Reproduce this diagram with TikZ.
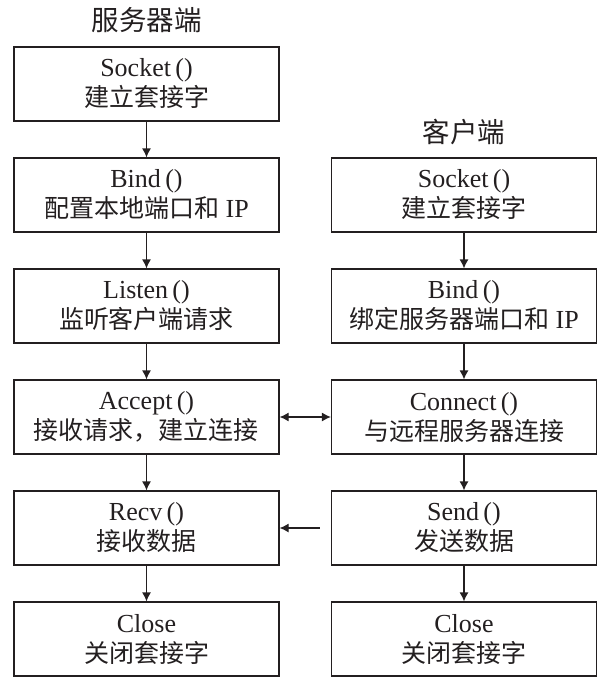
\documentclass[tikz,border=0pt]{standalone}
\usepackage{fontspec}
\setmainfont{Liberation Serif}
\newfontfamily\cjk{Noto Sans CJK SC}
\newcommand\zh[1]{{\cjk\fontsize{25}{30}\selectfont #1}}
\usetikzlibrary{arrows.meta}
\definecolor{ink}{HTML}{231F20}
\begin{document}
\begin{tikzpicture}[x=1pt,y=-1pt,
  box/.style={draw=ink, line width=1.2pt, minimum width=265pt, minimum height=74pt, inner sep=0pt, align=center, text=ink, font=\fontsize{26}{30}\selectfont},
  title/.style={text=ink, font=\cjk\fontsize{27.5}{30}\selectfont, inner sep=0pt},
  arr/.style={draw=ink, line width=1.2pt, -{Latex[length=9pt,width=9pt]}},
  darr/.style={draw=ink, line width=1.2pt, {Latex[length=9pt,width=9pt]}-{Latex[length=9pt,width=9pt]}}]
\useasboundingbox (0,0) rectangle (598,678);
\node[title] (st) at (146.5,20) {服务器端};
\node[title] (ct) at (464,132) {客户端};
% server
\node[box] (s1) at (146.5,84) {Socket\,()\\\zh{建立套接字}};
\node[box] (s2) at (146.5,195) {Bind\,()\\\zh{配置本地端口和} IP};
\node[box] (s3) at (146.5,306) {Listen\,()\\\zh{监听客户端请求}};
\node[box] (s4) at (146.5,417) {Accept\,()\\\zh{接收请求，建立连接}};
\node[box] (s5) at (146.5,528) {Recv\,()\\\zh{接收数据}};
\node[box] (s6) at (146.5,639) {Close\\\zh{关闭套接字}};
% client
\node[box] (c1) at (464,195) {Socket\,()\\\zh{建立套接字}};
\node[box] (c2) at (464,306) {Bind\,()\\\zh{绑定服务器端口和} IP};
\node[box] (c3) at (464,417) {Connect\,()\\\zh{与远程服务器连接}};
\node[box] (c4) at (464,528) {Send\,()\\\zh{发送数据}};
\node[box] (c5) at (464,639) {Close\\\zh{关闭套接字}};
\foreach \a/\b in {s1/s2,s2/s3,s3/s4,s4/s5,s5/s6,c1/c2,c2/c3,c3/c4,c4/c5}
  \draw[arr] (\a) -- (\b);
\draw[darr] (s4) -- (c3);
\coordinate (sendfrom) at ([xshift=-11pt]c4.west);
\draw[arr] (sendfrom) -- (s5.east);
\end{tikzpicture}
\end{document}
